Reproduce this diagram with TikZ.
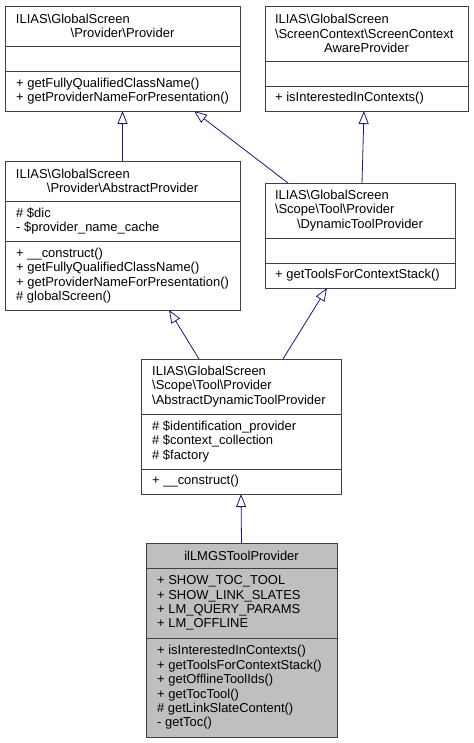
\documentclass[tikz,border=0pt]{standalone}
\usepackage{fontspec}
\setmainfont{Liberation Sans}
\usetikzlibrary{arrows.meta,calc,positioning}
\definecolor{edgeblue}{HTML}{191970}
\newcommand\umlfont{\fontsize{13}{14.5}\selectfont}
\newcommand\midrow[1]{\par\hfill#1\hfill\null}
\tikzstyle{classbox}=[
  draw=black!75,
  line width=0.8pt,
  inner sep=0pt,
  outer sep=0pt,
  rectangle,
  anchor=north west,
  fill=white,
]
\tikzstyle{classname}=[
  anchor=center,
  inner sep=0pt,
  align=left,
  font=\umlfont,
]
\tikzstyle{member}=[
  anchor=west,
  inner sep=0pt,
  align=left,
  font=\umlfont,
]
\tikzstyle{divider}=[
  draw=black!75,
  line width=0.8pt,
]
\tikzstyle{inherit}=[
  draw=edgeblue,
  line width=0.8pt,
  -{Triangle[open, length=13bp, width=10bp]},
]
\tikzset{
  x=1bp,
  y=-1bp,
}

\begin{document}
\begin{tikzpicture}
      \useasboundingbox (0,0) rectangle (474,743);
      %% Provider
      \node (prov) [classbox, minimum width=235bp, minimum height=105bp] at (5,6) {};
      \draw [divider] ($(prov.north west)+(0,40)$) -- ++(235,0);
      \draw [divider] ($(prov.north west)+(0,65)$) -- ++(235,0);
      \node (provname) [classname, text width=213bp] at ($(prov.north west)+(117.5,20)$)
      {ILIAS\textbackslash GlobalScreen\midrow{\textbackslash Provider\textbackslash Provider}};
      \node (provops) [member] at ($(prov.north west)+(11,85)$)
      {+ getFullyQualifiedClassName()\\+ getProviderNameForPresentation()};
      %% ScreenContextAwareProvider
      \node (scap) [classbox, minimum width=203bp, minimum height=105bp] at (265,6) {};
      \draw [divider] ($(scap.north west)+(0,55)$) -- ++(203,0);
      \draw [divider] ($(scap.north west)+(0,80)$) -- ++(203,0);
      \node (scapname) [classname, text width=183bp] at ($(scap.north west)+(101.5,27.5)$)
      {ILIAS\textbackslash GlobalScreen\par\textbackslash ScreenContext\textbackslash ScreenContext\midrow{AwareProvider}};
      \node (scapops) [member] at ($(scap.north west)+(10,92.5)$)
      {+ isInterestedInContexts()};
      %% AbstractProvider
      \node (absprov) [classbox, minimum width=235bp, minimum height=149bp] at (5,161) {};
      \draw [divider] ($(absprov.north west)+(0,40)$) -- ++(235,0);
      \draw [divider] ($(absprov.north west)+(0,80)$) -- ++(235,0);
      \node (absprovname) [classname, text width=213bp] at ($(absprov.north west)+(117.5,20)$)
      {ILIAS\textbackslash GlobalScreen\midrow{\textbackslash Provider\textbackslash AbstractProvider}};
      \node (absprovattr) [member] at ($(absprov.north west)+(11,60)$)
      {\# \$dic\\- \$provider\_name\_cache};
      \node (absprovops) [member] at ($(absprov.north west)+(11,114.5)$)
      {+ \_\_construct()\\+ getFullyQualifiedClassName()\\+ getProviderNameForPresentation()\\\# globalScreen()};
      %% DynamicToolProvider
      \node (dyntool) [classbox, minimum width=190bp, minimum height=105bp] at (265,183) {};
      \draw [divider] ($(dyntool.north west)+(0,55)$) -- ++(190,0);
      \draw [divider] ($(dyntool.north west)+(0,80)$) -- ++(190,0);
      \node (dyntoolname) [classname, text width=170bp] at ($(dyntool.north west)+(95,27.5)$)
      {ILIAS\textbackslash GlobalScreen\par\textbackslash Scope\textbackslash Tool\textbackslash Provider\midrow{\textbackslash DynamicToolProvider}};
      \node (dyntoolops) [member] at ($(dyntool.north west)+(10,92.5)$)
      {+ getToolsForContextStack()};
      %% AbstractDynamicToolProvider
      \node (absdyn) [classbox, minimum width=200bp, minimum height=135bp] at (141,359) {};
      \draw [divider] ($(absdyn.north west)+(0,55)$) -- ++(200,0);
      \draw [divider] ($(absdyn.north west)+(0,110)$) -- ++(200,0);
      \node (absdynname) [member] at ($(absdyn.north west)+(11,27.5)$)
      {ILIAS\textbackslash GlobalScreen\\\textbackslash Scope\textbackslash Tool\textbackslash Provider\\\textbackslash AbstractDynamicToolProvider};
      \node (absdynattr) [member] at ($(absdyn.north west)+(11,82.5)$)
      {\# \$identification\_provider\\\# \$context\_collection\\\# \$factory};
      \node (absdynops) [member] at ($(absdyn.north west)+(11,122.5)$)
      {+ \_\_construct()};
      %% ilLMGSToolProvider
      \node (lmgs) [classbox, fill=black!25, minimum width=191bp, minimum height=194bp] at (146,543) {};
      \draw [divider] ($(lmgs.north west)+(0,25)$) -- ++(191,0);
      \draw [divider] ($(lmgs.north west)+(0,95)$) -- ++(191,0);
      \node (lmgsname) [classname, align=center] at ($(lmgs.north west)+(95.5,12.5)$)
      {ilLMGSToolProvider};
      \node (lmgsattr) [member] at ($(lmgs.north west)+(11,60)$)
      {+ SHOW\_TOC\_TOOL\\+ SHOW\_LINK\_SLATES\\+ LM\_QUERY\_PARAMS\\+ LM\_OFFLINE};
      \node (lmgsops) [member] at ($(lmgs.north west)+(11,144.5)$)
      {+ isInterestedInContexts()\\+ getToolsForContextStack()\\+ getOfflineToolIds()\\+ getTocTool()\\\# getLinkSlateContent()\\- getToc()};
      %%
      \draw [inherit] (absprov.north) -- (prov.south);
      \draw [inherit] ($(dyntool.north west)+(23,0)$) -- ($(prov.south west)+(189,0)$);
      \draw [inherit] ($(dyntool.north west)+(97,0)$) -- ($(scap.south west)+(99,0)$);
      \draw [inherit] ($(absdyn.north west)+(58,0)$) -- ($(absprov.south west)+(164,0)$);
      \draw [inherit] ($(absdyn.north west)+(142,0)$) -- ($(dyntool.south west)+(62,0)$);
      \draw [inherit] (lmgs.north) -- (absdyn.south);
    \end{tikzpicture}
\end{document}
